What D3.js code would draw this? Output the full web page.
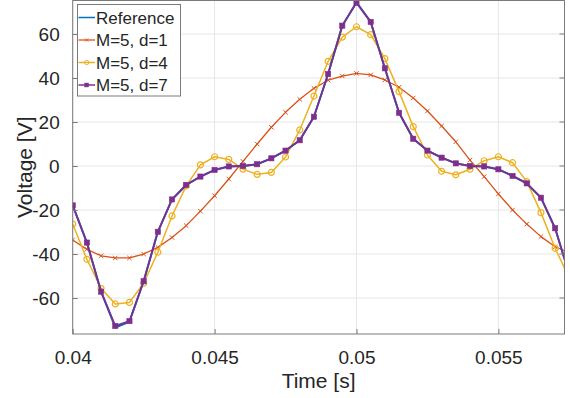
<!DOCTYPE html>
<html>
<head>
<meta charset="utf-8">
<script src="https://cdn.jsdelivr.net/npm/d3@7"></script>
<style>
  body { margin: 0; background: #fff; }
  text { font-family: "Liberation Sans", Arial, sans-serif; fill: #262626; }
</style>
</head>
<body>
<div class="volt_plot"></div>
<script>
// sample times [s]
const time = [0.0400, 0.0405, 0.0410, 0.0415, 0.0420, 0.0425, 0.0430, 0.0435, 0.0440, 0.0445,
              0.0450, 0.0455, 0.0460, 0.0465, 0.0470, 0.0475, 0.0480, 0.0485, 0.0490, 0.0495,
              0.0500, 0.0505, 0.0510, 0.0515, 0.0520, 0.0525, 0.0530, 0.0535, 0.0540, 0.0545,
              0.0550, 0.0555, 0.0560, 0.0565, 0.0570, 0.0575];

const reference = [-17.9, -34.8, -57.1, -73.4, -70.8, -52.4, -29.9, -15.2, -8.6, -4.8,
                   -1.8, -0.2, 0.0, 0.8, 3.5, 7.0, 11.7, 22.4, 41.8, 63.8,
                   74.4, 65.5, 44.4, 24.2, 12.4, 7.0, 3.8, 1.2, 0.0, -0.2,
                   -1.5, -4.5, -7.9, -14.4, -28.3, -49.4];
const d1 = [-33.6, -37.9, -40.8, -41.8, -41.8, -40.0, -37.0, -32.5, -27.1, -20.5,
            -13.5, -5.9, 2.1, 10.0, 17.6, 24.4, 30.3, 35.3, 39.0, 40.9,
            42.1, 41.4, 39.1, 35.8, 30.9, 25.0, 18.2, 11.0, 2.7, -4.8,
            -12.7, -20.0, -26.4, -32.1, -36.7, -39.4];
const d4 = [-26.4, -42.4, -55.6, -62.7, -62.0, -53.3, -39.2, -22.7, -9.0, 0.5,
            4.2, 3.0, -1.4, -3.8, -2.9, 4.1, 16.4, 31.8, 47.6, 58.6,
            63.3, 59.7, 48.8, 33.8, 17.9, 5.0, -2.4, -4.0, -1.5, 2.4,
            4.2, 1.5, -7.1, -21.2, -37.4, -51.0];
const d7 = [-17.9, -34.8, -57.1, -72.7, -70.5, -52.4, -29.9, -15.2, -8.6, -4.8,
            -1.8, -0.2, 0.0, 0.8, 3.5, 7.0, 11.7, 22.4, 41.8, 63.8,
            74.2, 65.5, 44.4, 24.2, 12.4, 7.0, 3.8, 1.2, 0.0, -0.2,
            -1.5, -4.5, -7.9, -14.4, -28.3, -49.4];

const seriesNames = ['Reference', 'M=5, d=1', 'M=5, d=4', 'M=5, d=7'];
const xTicks = [0.04, 0.045, 0.05, 0.055];
const xTickLabels = ['0.04', '0.045', '0.05', '0.055'];
const yTicks = [-60, -40, -20, 0, 20, 40, 60];
const yTickLabels = ['-60', '-40', '-20', '0', '20', '40', '60'];

const series = [
  {name: seriesNames[0], values: reference, color: '#0072BD', width: 2, marker: null},
  {name: seriesNames[1], values: d1, color: '#D95319', width: 1.3, marker: 'x'},
  {name: seriesNames[2], values: d4, color: '#EDB120', width: 1.5, marker: 'o'},
  {name: seriesNames[3], values: d7, color: '#7E2F8E', width: 1.8, marker: 's'}
];

const width = 570, height = 398;
const plot = {left: 72.7, right: 564.5, top: 0.5, bottom: 334};

const xScale = d3.scaleLinear()
                 .domain([0.04, 0.05733])
                 .range([plot.left, plot.right]);
const yScale = d3.scaleLinear()
                 .domain([-76.36, 75.23])
                 .range([plot.bottom, plot.top]);

const svg = d3.select('.volt_plot')
              .append('svg')
              .attr('width', width)
              .attr('height', height);

svg.append('clipPath')
   .attr('id', 'clip')
   .append('rect')
   .attr('x', plot.left)
   .attr('y', plot.top)
   .attr('width', plot.right - plot.left)
   .attr('height', plot.bottom - plot.top);

// grid
const grid = svg.append('g').attr('class', 'grid');
grid.selectAll('.gx')
    .data(xTicks)
    .join('line')
    .attr('x1', d=>xScale(d)).attr('x2', d=>xScale(d))
    .attr('y1', plot.top).attr('y2', plot.bottom)
    .attr('stroke', '#e6e6e6');
grid.selectAll('.gy')
    .data(yTicks)
    .join('line')
    .attr('class', 'gy')
    .attr('x1', plot.left).attr('x2', plot.right)
    .attr('y1', d=>yScale(d)).attr('y2', d=>yScale(d))
    .attr('stroke', '#e6e6e6');

// lines and markers
const line = d3.line()
               .x((d,i)=>xScale(time[i]))
               .y(d=>yScale(d));

const plotArea = svg.append('g').attr('clip-path', 'url(#clip)');

function drawMarker(g, type, color) {
  if (type === 'x') {
    g.append('path').attr('d', 'M-2.2,-2.2L2.2,2.2M-2.2,2.2L2.2,-2.2')
     .attr('stroke', color).attr('stroke-width', 1).attr('fill', 'none');
  } else if (type === 'o') {
    g.append('circle').attr('r', 3)
     .attr('stroke', color).attr('stroke-width', 1.2).attr('fill', 'none');
  } else if (type === 's') {
    g.append('rect').attr('x', -2.6).attr('y', -2.6).attr('width', 5.2).attr('height', 5.2)
     .attr('fill', color).attr('stroke', color).attr('stroke-width', 0.6);
  }
}

// draw reference last-but-one so purple sits on top
const drawOrder = [1, 2, 0, 3];
drawOrder.forEach(k=>{
  const s = series[k];
  plotArea.append('path')
          .datum(s.values)
          .attr('d', line)
          .attr('fill', 'none')
          .attr('stroke', s.color)
          .attr('stroke-width', s.width)
          .attr('stroke-linejoin', 'round');
  if (s.marker) {
    plotArea.selectAll('.m' + k)
            .data(s.values)
            .join('g')
            .attr('class', 'm' + k)
            .attr('transform', (d,i)=>`translate(${xScale(time[i])},${yScale(d)})`)
            .each(function() { drawMarker(d3.select(this), s.marker, s.color); });
  }
});

// axes box
const axisColor = '#7a7a7a';
svg.append('rect')
   .attr('x', plot.left).attr('y', plot.top)
   .attr('width', plot.right - plot.left)
   .attr('height', plot.bottom - plot.top)
   .attr('fill', 'none')
   .attr('stroke', axisColor)
   .attr('stroke-width', 1);

const xAxis = d3.axisBottom(xScale)
                .tickValues(xTicks)
                .tickFormat((d,i)=>xTickLabels[i])
                .tickSizeInner(-5)
                .tickSizeOuter(0)
                .tickPadding(17);
const yAxis = d3.axisLeft(yScale)
                .tickValues(yTicks)
                .tickFormat((d,i)=>yTickLabels[i])
                .tickSizeInner(-5)
                .tickSizeOuter(0)
                .tickPadding(13);

const gx = svg.append('g')
              .attr('class', 'axis x-axis')
              .attr('transform', `translate(0, ${plot.bottom})`)
              .call(xAxis);
const gy = svg.append('g')
              .attr('class', 'axis y-axis')
              .attr('transform', `translate(${plot.left}, 0)`)
              .call(yAxis);
[gx, gy].forEach(g=>{
  g.select('.domain').remove();
  g.selectAll('line').attr('stroke', axisColor);
  g.selectAll('text').attr('font-size', 19).attr('fill', '#262626')
   .attr('font-family', '"Liberation Sans", Arial, sans-serif');
});
// right-side ticks
svg.append('g')
   .selectAll('line')
   .data(yTicks)
   .join('line')
   .attr('x1', plot.right).attr('x2', plot.right - 5)
   .attr('y1', d=>yScale(d)).attr('y2', d=>yScale(d))
   .attr('stroke', axisColor);

// axis labels
svg.append('text')
   .attr('x', (plot.left + plot.right) / 2)
   .attr('y', 388)
   .attr('text-anchor', 'middle')
   .attr('font-size', 21)
   .text('Time [s]');
svg.append('text')
   .attr('transform', `translate(32, ${(plot.top + plot.bottom) / 2}) rotate(-90)`)
   .attr('text-anchor', 'middle')
   .attr('font-size', 21)
   .text('Voltage [V]');

// legend
const legend = svg.append('g').attr('class', 'legend');
legend.append('rect')
      .attr('x', 77.5).attr('y', 4.5)
      .attr('width', 103).attr('height', 91.5)
      .attr('fill', '#fff')
      .attr('stroke', axisColor);
series.forEach((s,i)=>{
  const y = 17.5 + i * 22.5;
  legend.append('line')
        .attr('x1', 78.5).attr('x2', 95)
        .attr('y1', y).attr('y2', y)
        .attr('stroke', s.color)
        .attr('stroke-width', s.width > 1.5 ? 1.5 : s.width);
  if (s.marker) {
    const m = legend.append('g').attr('transform', `translate(86.7, ${y}) scale(0.75)`);
    drawMarker(m, s.marker, s.color);
  }
  legend.append('text')
        .attr('x', 96)
        .attr('y', y + 6)
        .attr('font-size', 17)
        .text(s.name);
});
</script>
</body>
</html>
